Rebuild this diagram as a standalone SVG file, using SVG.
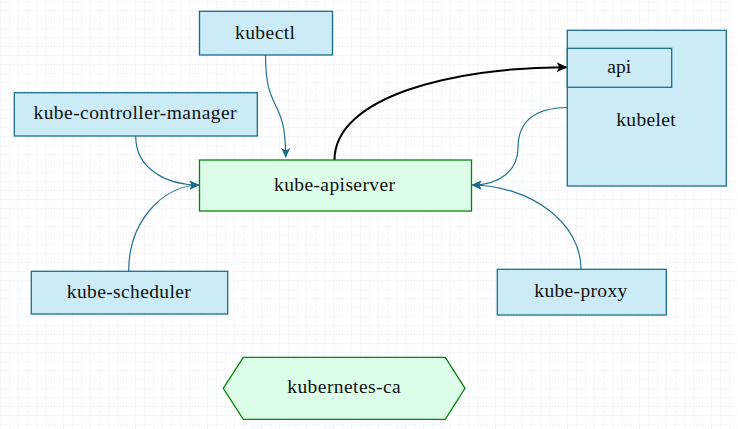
<svg xmlns="http://www.w3.org/2000/svg" width="738" height="429" viewBox="0 0 738 429">
<style>
.blue{fill:#cbebf6;stroke:#1a6d8c;stroke-width:1.3}
.green{fill:#dcfde8;stroke:#0a830a;stroke-width:1.3}
.t{font-family:"Liberation Serif","DejaVu Serif",serif;font-size:19.5px;fill:#111;text-anchor:middle}
.c{fill:none;stroke:#21708e;stroke-width:1.2}
.k{fill:none;stroke:#000;stroke-width:2}
</style>
<defs>
<pattern id="grid" width="9" height="9" patternUnits="userSpaceOnUse" x="0" y="1">
<path d="M0 0H9M0 0V9" fill="none" stroke="#e3ecf6" stroke-width="1" stroke-dasharray="2 1"/>
</pattern>
<marker id="ab" viewBox="0 0 10 10" refX="9" refY="5" markerWidth="10" markerHeight="10" markerUnits="userSpaceOnUse" orient="auto">
<path d="M0,0.5 L10,5 L0,9.5 L2.5,5 Z" fill="#1d6c8a"/>
</marker>
<marker id="ak" viewBox="0 0 10 10" refX="9" refY="5" markerWidth="11" markerHeight="11" markerUnits="userSpaceOnUse" orient="auto">
<path d="M0,0.5 L10,5 L0,9.5 L2.5,5 Z" fill="#000"/>
</marker>
</defs>
<rect width="738" height="429" fill="#fff"/>
<rect width="738" height="429" fill="url(#grid)"/>
<g id="connectors">
<path class="c" d="M265.5,55 C265.5,115 285.7,95 285.7,157" marker-end="url(#ab)"/>
<path class="c" d="M135.7,136 C135.7,170 168,185 198.5,185" marker-end="url(#ab)"/>
<path class="c" d="M128.7,271 C128.7,222 162,186 198.5,185" marker-end="url(#ab)"/>
<path class="c" d="M567.3,107.5 C530,108 518,125 518,148 C518,170 500,185 472.5,185" marker-end="url(#ab)"/>
<path class="c" d="M581,269 C581,222 530,186 472.5,185" marker-end="url(#ab)"/>
<path class="k" d="M334.5,160 C334.5,98 450,67 566.5,67.3" marker-end="url(#ak)"/>
</g>
<g id="kubectl"><rect class="blue" x="199.5" y="11.3" width="133" height="43.7"/><text class="t" x="265" y="39.3" textLength="60">kubectl</text></g>
<g id="kube-controller-manager"><rect class="blue" x="14.3" y="92.7" width="243" height="43.3"/><text class="t" x="135" y="119.3" textLength="203">kube-controller-manager</text></g>
<g id="kube-apiserver"><rect class="green" x="199.5" y="160" width="272" height="51"/><text class="t" x="334.5" y="190.7" textLength="121">kube-apiserver</text></g>
<g id="kubelet"><rect class="blue" x="567.3" y="30.3" width="159" height="155.7"/><text class="t" x="646" y="125.7" textLength="59.5">kubelet</text></g>
<g id="api"><rect class="blue" x="567.3" y="48.3" width="104.4" height="39"/><text class="t" x="619.2" y="72.7" textLength="24">api</text></g>
<g id="kube-scheduler"><rect class="blue" x="31.3" y="271.3" width="196.4" height="42.7"/><text class="t" x="128.8" y="297.7" textLength="124">kube-scheduler</text></g>
<g id="kube-proxy"><rect class="blue" x="497.3" y="269.3" width="169" height="45.7"/><text class="t" x="580.8" y="296.7" textLength="93">kube-proxy</text></g>
<g id="kubernetes-ca"><polygon class="green" points="243.3,357.3 445.3,357.3 465,388.3 445.3,419.3 243.3,419.3 223.3,388.3"/><text class="t" x="344" y="393.3" textLength="113.5">kubernetes-ca</text></g>
</svg>
